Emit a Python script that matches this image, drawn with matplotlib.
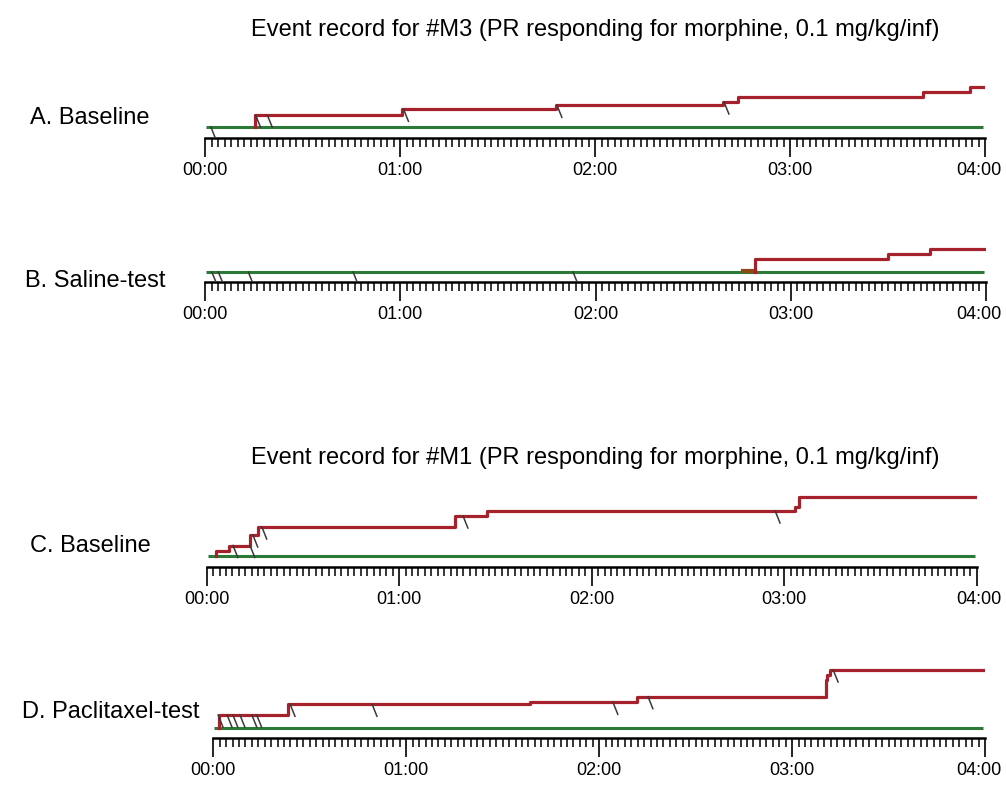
import numpy as np
import matplotlib
matplotlib.use('Agg')
import matplotlib.pyplot as plt
import matplotlib.transforms as mtransforms
from matplotlib import font_manager

W, H = 1006, 793
names = {f.name for f in font_manager.fontManager.ttflist}
narrow = 'Liberation Sans Narrow' if 'Liberation Sans Narrow' in names else 'Liberation Sans'
plt.rcParams['font.family'] = ['Liberation Sans', 'DejaVu Sans']

titles = ['Event record for #M3 (PR responding for morphine, 0.1 mg/kg/inf)',
          'Event record for #M1 (PR responding for morphine, 0.1 mg/kg/inf)']
labels = ['A. Baseline', 'B. Saline-test', 'C. Baseline', 'D. Paclitaxel-test']
tick_labels = ['00:00', '01:00', '02:00', '03:00', '04:00']

# cumulative record: step times (min) and levels above baseline
a_t = [15.4, 60.5, 108.0, 159.5, 164.0, 221.0, 235.4]
a_lv = [11.7, 17.7, 21.7, 25.0, 30.0, 35.0, 40.0]
a_end = 239.4
a_evt_t = [1.8, 15.6, 19.2, 61.1, 108.3, 159.7]
a_evt_lv = [0, 11.7, 11.7, 17.7, 21.7, 25.0]

b_t = [169.0, 209.8, 222.8]
b_lv = [12.7, 18.4, 23.4]
b_end = 240.0
b_evt_t = [2.1, 4.1, 13.3, 45.5, 113.1]
b_evt_lv = [0, 0, 0, 0, 0]
b_pre = [165.3, 169.0]  # short brown segment before first infusion

c_t = [2.9, 7.0, 13.5, 15.9, 77.4, 87.3, 183.4, 184.7]
c_lv = [5.0, 10.5, 21.0, 29.0, 40.0, 45.0, 49.3, 58.7]
c_end = 239.8
c_evt_t = [8.2, 13.5, 14.4, 17.2, 79.9, 177.2]
c_evt_lv = [10.5, 10.5, 21.0, 29.0, 40.0, 45.0]

d_t = [1.9, 23.3, 98.5, 131.7, 190.6, 191.0, 191.8]
d_lv = [13.3, 24.0, 26.0, 31.6, 48.3, 53.3, 58.3]
d_end = 239.5
d_evt_t = [1.5, 4.3, 6.1, 8.3, 12.0, 13.5, 23.9, 49.4, 124.3, 135.2, 192.8]
d_evt_lv = [13.3, 13.3, 13.3, 13.3, 13.3, 13.3, 24.0, 24.0, 26.0, 31.6, 58.3]

# panel geometry in pixels: left, right, axis line y, gap below baseline
panels = [
    dict(t=a_t, lv=a_lv, end=a_end, et=a_evt_t, elv=a_evt_lv, box=(205, 985, 138, 11), lab=(30, 118)),
    dict(t=b_t, lv=b_lv, end=b_end, et=b_evt_t, elv=b_evt_lv, box=(205, 986, 282, 10), lab=(25, 281)),
    dict(t=c_t, lv=c_lv, end=c_end, et=c_evt_t, elv=c_evt_lv, box=(206.7, 976.7, 567, 11), lab=(30, 546)),
    dict(t=d_t, lv=d_lv, end=d_end, et=d_evt_t, elv=d_evt_lv, box=(213.3, 985, 738.3, 10), lab=(22, 712)),
]

red = '#a5222d'
green = '#2c7a38'
top = 65

fig = plt.figure(figsize=(W / 100, H / 100), dpi=100)
fig.text(595 / W, 1 - 30 / H, titles[0], ha='center', va='center', fontsize=17)
fig.text(595 / W, 1 - 458 / H, titles[1], ha='center', va='center', fontsize=17)

for i, p in enumerate(panels):
    L, R, Y, g = p['box']
    ax = fig.add_axes([L / W, (H - Y) / H, (R - L) / W, (g + top) / H])
    ax.set_xlim(0, 240)
    ax.set_ylim(-g, top)
    for s in ['top', 'left', 'right']:
        ax.spines[s].set_visible(False)
    ax.spines['bottom'].set_linewidth(1.8)
    ax.set_yticks([])
    ax.set_xticks(np.arange(0, 241, 60))
    ax.set_xticks(np.arange(0, 241, 2), minor=True)
    ax.set_xticklabels(tick_labels, fontsize=13, family=[narrow, 'DejaVu Sans'])
    ax.tick_params(axis='x', which='major', length=13.5, width=1.2, pad=3.5)
    ax.tick_params(axis='x', which='minor', length=6.5, width=1.1)
    last = ax.get_xticklabels()[-1]
    shift = (R - 979) / 100.0
    last.set_transform(last.get_transform() + mtransforms.ScaledTranslation(-shift, 0, fig.dpi_scale_trans))

    # baseline
    ax.plot([0.3, 239.5], [0, 0], color=green, lw=2.2, solid_capstyle='butt', zorder=2)
    if i == 1:
        ax.plot(b_pre, [1.2, 1.2], color='#8a4a12', lw=3, zorder=3)

    # cumulative record
    xs = [p['t'][0]] + p['t'] + [p['end']]
    ys = [0] + p['lv'] + [p['lv'][-1]]
    ax.plot(xs, ys, drawstyle='steps-post', color=red, lw=2.3, zorder=3)

    # event marks
    for t, lv in zip(p['et'], p['elv']):
        dy = min(12, lv + g)
        ax.plot([t, t + 1.5 * dy / 12], [lv, lv - dy], color='#3a3a3a', lw=1.1, zorder=4)

    fig.text(p['lab'][0] / W, 1 - p['lab'][1] / H, labels[i], ha='left', va='center', fontsize=17)

fig.savefig('out.png', dpi=100)
